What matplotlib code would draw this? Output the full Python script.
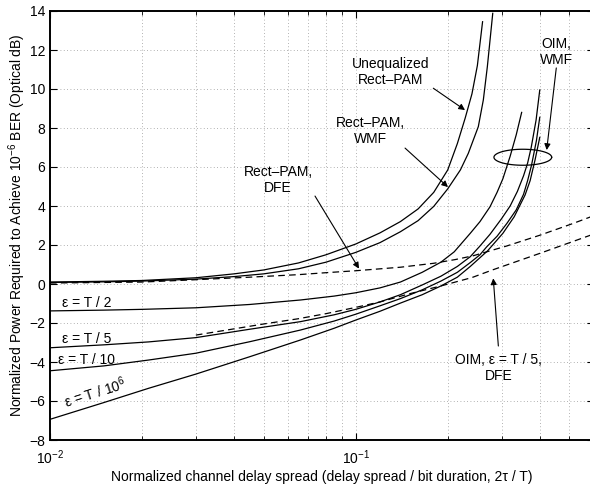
import numpy as np
import matplotlib.pyplot as plt
from matplotlib.ticker import LogLocator, NullFormatter

plt.rcParams["font.family"] = ["Liberation Sans", "DejaVu Sans"]
plt.rcParams["mathtext.default"] = "regular"

# -----------------------------
# Data
# -----------------------------
# Rect-PAM, unequalized
x_unequalized = [0.01, 0.015, 0.02, 0.03, 0.04, 0.05, 0.065, 0.08, 0.1, 0.12, 0.14,
                 0.16, 0.18, 0.2, 0.215, 0.228, 0.24, 0.25, 0.26]
y_unequalized = [0.10, 0.14, 0.18, 0.32, 0.52, 0.72, 1.08, 1.50, 2.05, 2.62, 3.20,
                 3.85, 4.70, 5.85, 7.20, 8.50, 9.75, 11.20, 13.45]

# Rect-PAM, WMF
x_pam_wmf = [0.01, 0.015, 0.02, 0.03, 0.04, 0.05, 0.065, 0.08, 0.1, 0.12, 0.14,
             0.16, 0.18, 0.2, 0.22, 0.2335, 0.2518, 0.2615, 0.2695, 0.2807]
y_pam_wmf = [0.08, 0.11, 0.15, 0.25, 0.38, 0.52, 0.78, 1.12, 1.62, 2.12, 2.68,
             3.25, 3.98, 4.88, 5.85, 6.70, 8.07, 9.44, 11.14, 13.88]

# Rect-PAM, DFE (dashed)
x_pam_dfe = [0.01, 0.02, 0.03, 0.045, 0.065, 0.08, 0.1, 0.14, 0.1795, 0.2112,
             0.2425, 0.312, 0.4, 0.513, 0.6]
y_pam_dfe = [0.05, 0.10, 0.22, 0.35, 0.48, 0.58, 0.68, 0.86, 1.06, 1.25,
             1.45, 1.95, 2.50, 3.10, 3.50]

# OIM, WMF for several slot widths
x_oim_t2 = [0.01, 0.015, 0.02, 0.03, 0.045, 0.066, 0.085, 0.1, 0.12, 0.14, 0.165,
            0.19, 0.21, 0.237, 0.255, 0.275, 0.29, 0.303, 0.32, 0.335, 0.349]
y_oim_t2 = [-1.38, -1.34, -1.30, -1.22, -1.05, -0.82, -0.62, -0.45, -0.20, 0.10, 0.60,
            1.12, 1.65, 2.60, 3.20, 3.96, 4.70, 5.40, 6.55, 7.65, 8.80]

x_oim_t5 = [0.01, 0.015, 0.021, 0.03, 0.045, 0.066, 0.085, 0.1, 0.12, 0.14, 0.165,
            0.19, 0.215, 0.237, 0.255, 0.275, 0.3, 0.32, 0.338, 0.354, 0.365,
            0.375, 0.389, 0.4]
y_oim_t5 = [-3.27, -3.12, -2.97, -2.75, -2.32, -1.93, -1.58, -1.30, -0.92, -0.55, -0.05,
            0.40, 0.90, 1.40, 1.95, 2.55, 3.35, 4.00, 4.75, 5.55, 6.20,
            7.00, 8.40, 9.95]

x_oim_t10 = [0.01, 0.015, 0.021, 0.03, 0.045, 0.066, 0.085, 0.1, 0.12, 0.14, 0.165,
             0.19, 0.215, 0.237, 0.255, 0.268, 0.29, 0.312, 0.335, 0.354, 0.365,
             0.376, 0.39, 0.4]
y_oim_t10 = [-4.45, -4.20, -3.90, -3.55, -2.96, -2.36, -1.90, -1.55, -1.12, -0.75, -0.30,
             0.15, 0.60, 1.10, 1.50, 1.90, 2.45, 3.10, 3.80, 4.60, 5.30,
             6.10, 7.35, 8.55]

x_oim_t1e6 = [0.01, 0.015, 0.021, 0.03, 0.045, 0.066, 0.085, 0.1, 0.12, 0.14, 0.165,
              0.19, 0.215, 0.237, 0.27, 0.303, 0.33, 0.358, 0.372, 0.386, 0.4]
y_oim_t1e6 = [-6.94, -6.08, -5.35, -4.62, -3.73, -2.87, -2.27, -1.85, -1.40, -0.98, -0.55,
              -0.10, 0.35, 0.90, 1.70, 2.60, 3.45, 4.56, 5.30, 6.36, 7.52]

# OIM, eps = T/5, DFE (dashed)
x_oim_dfe = [0.03, 0.04, 0.05, 0.065, 0.08, 0.1, 0.12, 0.15, 0.19, 0.24, 0.28, 0.4, 0.6]
y_oim_dfe = [-2.62, -2.30, -2.05, -1.78, -1.52, -1.20, -0.92, -0.50, -0.10, 0.33, 0.72, 1.57, 2.56]

y_ticks = [-8, -6, -4, -2, 0, 2, 4, 6, 8, 10, 12, 14]

# -----------------------------
# Figure
# -----------------------------
fig = plt.figure(figsize=(5.9, 4.84), dpi=100)
ax = fig.add_axes([50 / 590, 44 / 484, 543.6 / 590, 429 / 484])

solid = dict(color="black", lw=0.9)
dashed = dict(color="black", lw=0.9, linestyle=(0, (5.3, 3.4)))

ax.plot(x_unequalized, y_unequalized, **solid)
ax.plot(x_pam_wmf, y_pam_wmf, **solid)
ax.plot(x_pam_dfe, y_pam_dfe, **dashed)
ax.plot(x_oim_t2, y_oim_t2, **solid)
ax.plot(x_oim_t5, y_oim_t5, **solid)
ax.plot(x_oim_t10, y_oim_t10, **solid)
ax.plot(x_oim_t1e6, y_oim_t1e6, **solid)
ax.plot(x_oim_dfe, y_oim_dfe, **dashed)

# ellipse around the OIM WMF bundle (drawn in log-x space)
t = np.linspace(0, 2 * np.pi, 120)
ell_x = 10 ** (np.log10(0.352) + 0.0944 * np.cos(t))
ell_y = 6.5 + 0.41 * np.sin(t)
ax.plot(ell_x, ell_y, color="black", lw=0.9)

# axes setup
ax.set_xscale("log")
ax.set_xlim(0.01, 0.6)
ax.set_ylim(-8, 14)
ax.set_yticks(y_ticks)
ax.xaxis.set_major_locator(LogLocator(base=10))
ax.xaxis.set_minor_locator(LogLocator(base=10, subs=np.arange(2, 10)))
ax.xaxis.set_minor_formatter(NullFormatter())

grid_kw = dict(color="0.6", linestyle=(0, (1, 3)), linewidth=0.6)
ax.grid(True, which="major", **grid_kw)
ax.xaxis.grid(True, which="minor", **grid_kw)

ax.tick_params(which="both", direction="in", top=True, right=True, labelsize=10)
ax.tick_params(which="major", length=5, width=0.8)
ax.tick_params(which="minor", length=3, width=0.6)
ax.tick_params(axis="x", which="major", pad=6)
for s in ax.spines.values():
    s.set_linewidth(1.4)

ax.set_xlabel("Normalized channel delay spread (delay spread / bit duration, 2\u03c4 / T)",
              fontsize=10, labelpad=2)
ax.set_ylabel("Normalized Power Required to Achieve 10$^{-6}$ BER (Optical dB)",
              fontsize=10, labelpad=1)

# annotations
arrow = dict(arrowstyle="-|>", color="black", lw=0.8, mutation_scale=9,
             shrinkA=0, shrinkB=0)
txt = dict(fontsize=10, ha="center", va="center", linespacing=1.2)

ax.text(0.1305, 10.87, "Unequalized\nRect\u2013PAM", **txt)
ax.annotate("", xy=(0.2278, 8.92), xytext=(0.1794, 10.04), arrowprops=arrow)

ax.text(0.1114, 7.85, "Rect\u2013PAM,\nWMF", **txt)
ax.annotate("", xy=(0.2004, 4.97), xytext=(0.145, 6.97), arrowprops=arrow)

ax.text(0.0557, 5.33, "Rect\u2013PAM,\nDFE", **txt)
ax.annotate("", xy=(0.1025, 0.79), xytext=(0.0736, 4.51), arrowprops=arrow)

ax.text(0.4546, 11.9, "OIM,\nWMF", **txt)
ax.annotate("", xy=(0.4214, 6.87), xytext=(0.453, 11.08), arrowprops=arrow)

ax.text(0.2928, -4.31, "OIM, \u03b5 = T / 5,\nDFE", **txt)
ax.annotate("", xy=(0.2818, 0.29), xytext=(0.2928, -3.18), arrowprops=arrow)

ax.text(0.01094, -0.97, "\u03b5 = T / 2", fontsize=10, ha="left", va="center")
ax.text(0.01094, -2.82, "\u03b5 = T / 5", fontsize=10, ha="left", va="center")
ax.text(0.01062, -3.9, "\u03b5 = T / 10", fontsize=10, ha="left", va="center")
ax.text(0.01404, -5.54, "\u03b5 = T / 10$^6$", fontsize=10, ha="center", va="center",
        rotation=17.5, rotation_mode="anchor")

fig.savefig("out.png", dpi=100)
